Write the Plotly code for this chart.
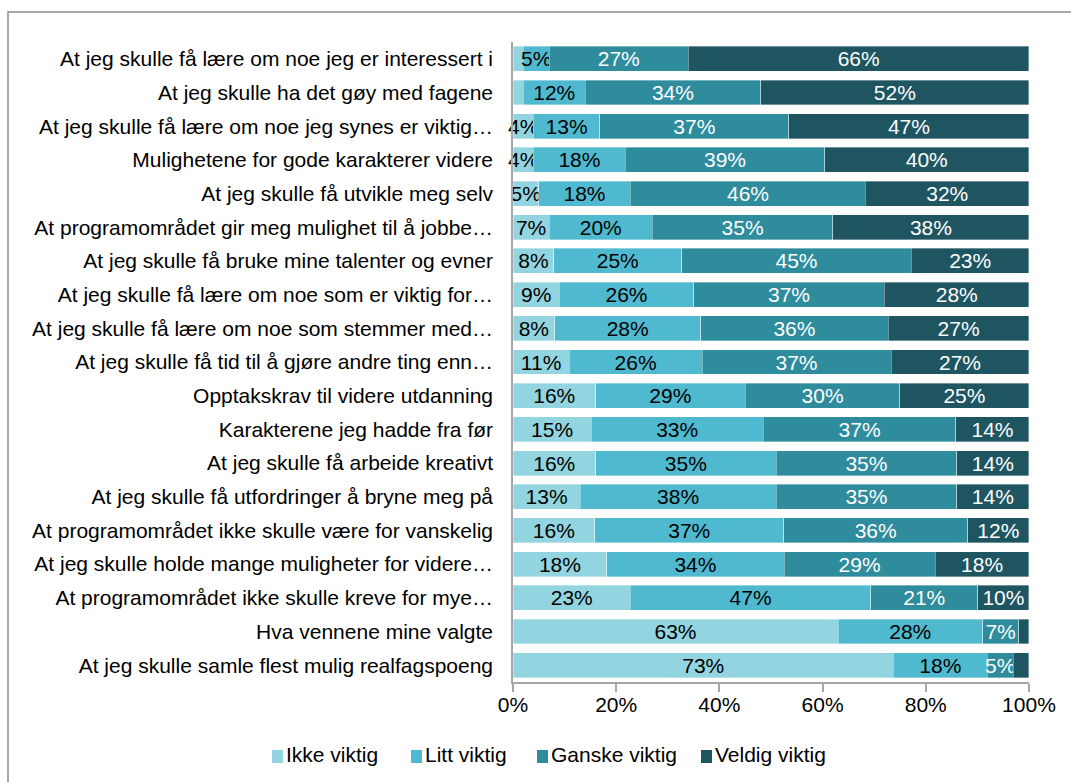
import plotly.graph_objects as go

categories = [
    "At jeg skulle få lære om noe jeg er interessert i",
    "At jeg skulle ha det gøy med fagene",
    "At jeg skulle få lære om noe jeg synes er viktig…",
    "Mulighetene for gode karakterer videre",
    "At jeg skulle få utvikle meg selv",
    "At programområdet gir meg mulighet til å jobbe…",
    "At jeg skulle få bruke mine talenter og evner",
    "At jeg skulle få lære om noe som er viktig for…",
    "At jeg skulle få lære om noe som stemmer med…",
    "At jeg skulle få tid til å gjøre andre ting enn…",
    "Opptakskrav til videre utdanning",
    "Karakterene jeg hadde fra før",
    "At jeg skulle få arbeide kreativt",
    "At jeg skulle få utfordringer å bryne meg på",
    "At programområdet ikke skulle være for vanskelig",
    "At jeg skulle holde mange muligheter for videre…",
    "At programområdet ikke skulle kreve for mye…",
    "Hva vennene mine valgte",
    "At jeg skulle samle flest mulig realfagspoeng",
]

ikke_viktig = [2, 2, 4, 4, 5, 7, 8, 9, 8, 11, 16, 15, 16, 13, 16, 18, 23, 63, 73]
litt_viktig = [5, 12, 13, 18, 18, 20, 25, 26, 28, 26, 29, 33, 35, 38, 37, 34, 47, 28, 18]
ganske_viktig = [27, 34, 37, 39, 46, 35, 45, 37, 36, 37, 30, 37, 35, 35, 36, 29, 21, 7, 5]
veldig_viktig = [66, 52, 47, 40, 32, 38, 23, 28, 27, 27, 25, 14, 14, 14, 12, 18, 10, 2, 3]

series_names = ["Ikke viktig", "Litt viktig", "Ganske viktig", "Veldig viktig"]
series_values = [ikke_viktig, litt_viktig, ganske_viktig, veldig_viktig]
series_colors = ["#92D4DF", "#4FB9CF", "#2E8C9D", "#1E5561"]
label_colors = ["#000000", "#000000", "#FFFFFF", "#FFFFFF"]

FONT = "Liberation Sans, Arial, sans-serif"
FS = 21

fig = go.Figure()
for name, vals, color, txtcol in zip(series_names, series_values, series_colors, label_colors):
    labels = [f"{v}%" if v >= 4 else "" for v in vals]
    fig.add_trace(go.Bar(
        name=name,
        y=categories,
        x=vals,
        orientation="h",
        marker=dict(color=color, line=dict(color="rgba(255,255,255,0.6)", width=0.6)),
        text=labels,
        textposition="inside",
        insidetextanchor="middle",
        textangle=0,
        constraintext="none",
        textfont=dict(family=FONT, size=FS, color=txtcol),
        cliponaxis=False,
        showlegend=False,
    ))

W, H = 1071, 782
L, R, T, B = 513, 42, 42, 100
pw, ph = W - L - R, H - T - B


def px_x(x):
    return (x - L) / pw


def px_y(y):
    return 1 - (y - T) / ph


fig.update_layout(
    width=W, height=H,
    barmode="stack",
    barnorm="percent",
    bargap=0.26,
    margin=dict(l=L, r=R, t=T, b=B, pad=0),
    paper_bgcolor="white",
    plot_bgcolor="white",
    font=dict(family=FONT, size=FS, color="#000000"),
    uniformtext=dict(minsize=FS, mode="show"),
    showlegend=False,
    xaxis=dict(
        range=[0, 100.01],
        tickvals=[0, 20, 40, 60, 80, 100],
        ticktext=["0%", "20%", "40%", "60%", "80%", "100%"],
        showgrid=False,
        zeroline=False,
        showline=True,
        linecolor="#A6A6A6",
        linewidth=1.5,
        ticks="outside",
        ticklen=8,
        tickcolor="#A6A6A6",
        tickwidth=1.5,
        ticklabelstandoff=-5,
        tickfont=dict(family=FONT, size=FS, color="#000000"),
        fixedrange=True,
    ),
    yaxis=dict(
        categoryorder="array",
        categoryarray=categories[::-1],
        showgrid=False,
        showline=True,
        linecolor="#A6A6A6",
        linewidth=1.5,
        ticks="",
        ticklabelstandoff=14,
        tickfont=dict(family=FONT, size=FS, color="#000000"),
        fixedrange=True,
    ),
)

# legend row under the axis: square swatch followed by the series name
legend_x = [272, 411, 537, 701]
legend_y = 754
for name, color, lx in zip(series_names, series_colors, legend_x):
    fig.add_shape(
        type="rect", xref="paper", yref="paper",
        x0=px_x(lx), x1=px_x(lx + 11),
        y0=px_y(legend_y + 9), y1=px_y(legend_y - 4),
        line=dict(width=0), fillcolor=color,
    )
    fig.add_annotation(
        xref="paper", yref="paper",
        x=px_x(lx + 12), y=px_y(legend_y),
        xanchor="left", yanchor="middle",
        text=name, showarrow=False,
        font=dict(family=FONT, size=FS, color="#000000"),
    )

# chart frame
fig.add_shape(
    type="rect", xref="paper", yref="paper",
    x0=px_x(8), x1=px_x(1090), y0=px_y(800), y1=px_y(12),
    line=dict(color="#8C8C8C", width=1.5),
    fillcolor="rgba(0,0,0,0)",
    layer="below",
)

fig.write_html("out.html")
